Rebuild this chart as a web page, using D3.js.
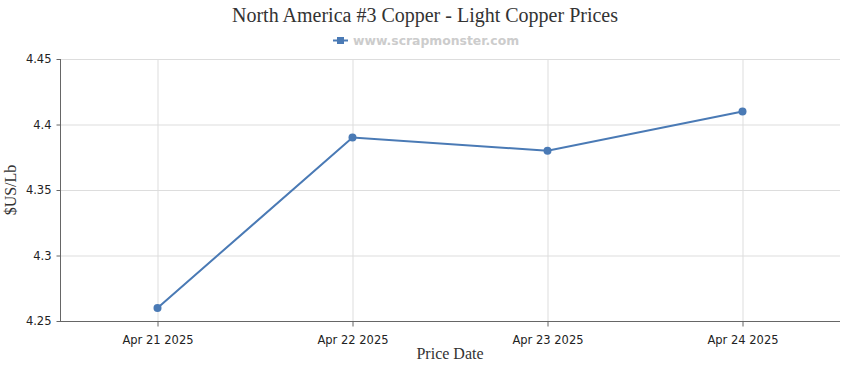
<!DOCTYPE html>
<html><head><meta charset="utf-8">
<script src="https://cdn.jsdelivr.net/npm/d3@7"></script>
<style>body{margin:0;background:#fff}</style>
</head><body>
<svg id="c" width="850" height="370"></svg>
<script>
const categories = ["Apr 21 2025","Apr 22 2025","Apr 23 2025","Apr 24 2025"];
const prices = [4.26, 4.39, 4.38, 4.41];
const yTicks = [4.25, 4.3, 4.35, 4.4, 4.45];
const yTickLabels = ["4.25","4.3","4.35","4.4","4.45"];

const svg = d3.select("#c");
const L=60,R=840,T=59,B=321;
const color="#4a7ab5";
const x=d3.scalePoint().domain(categories).range([L,R]).padding(0.5);
const y=d3.scaleLinear().domain([4.25,4.45]).range([B,T]);

// grid
svg.append("g").selectAll("line").data(yTicks).join("line")
 .attr("x1",L).attr("x2",R).attr("y1",d=>y(d)+0.5).attr("y2",d=>y(d)+0.5)
 .attr("stroke","#ddd");
svg.append("g").selectAll("line").data(categories).join("line")
 .attr("x1",d=>x(d)+0.5).attr("x2",d=>x(d)+0.5).attr("y1",T).attr("y2",B)
 .attr("stroke","#ddd");

// axes
const ya=svg.append("g").attr("transform",`translate(${L+0.5},0)`)
 .call(d3.axisLeft(y).tickValues(yTicks).tickFormat((d,i)=>yTickLabels[i]).tickSize(4).tickPadding(5));
const xa=svg.append("g").attr("transform",`translate(0,${B+0.5})`)
 .call(d3.axisBottom(x).tickSize(5).tickPadding(9));
[ya,xa].forEach(a=>{
 a.select(".domain").attr("stroke","#666");
 a.selectAll(".tick line").attr("stroke","#666");
 a.selectAll("text").attr("fill","#222").style("font-family","Tahoma, Verdana, 'DejaVu Sans', sans-serif").style("font-size","11.5px");
});
xa.select(".domain").attr("d",`M${L},0H${R}`);
ya.select(".domain").attr("d",`M0,${T}V${B}`);

// line
svg.append("path").datum(prices)
 .attr("d",d3.line().x((d,i)=>x(categories[i])).y(d=>y(d)))
 .attr("fill","none").attr("stroke",color).attr("stroke-width",2);
svg.append("g").selectAll("circle").data(prices).join("circle")
 .attr("cx",(d,i)=>x(categories[i])).attr("cy",d=>y(d)).attr("r",4).attr("fill",color);

// title
svg.append("text").attr("x",425).attr("y",22).attr("text-anchor","middle")
 .style("font-family","'Liberation Serif','Times New Roman',serif").style("font-size","20px").attr("fill","#333")
 .text("North America #3 Copper - Light Copper Prices");
// legend/subtitle
svg.append("line").attr("x1",333).attr("x2",348).attr("y1",40.5).attr("y2",40.5).attr("stroke",color).attr("stroke-width",2);
svg.append("rect").attr("x",337).attr("y",37).attr("width",7).attr("height",7).attr("fill",color);
svg.append("text").attr("x",353).attr("y",45)
 .style("font-family","'DejaVu Sans',Verdana,sans-serif").style("font-size","12.4px").style("font-weight","bold").attr("fill","#ccc")
 .text("www.scrapmonster.com");

// axis titles
svg.append("text").attr("transform",`translate(16,${(T+B)/2}) rotate(-90)`).attr("text-anchor","middle")
 .style("font-family","'Liberation Serif','Times New Roman',serif").style("font-size","16px").attr("fill","#333").text("$US/Lb");
svg.append("text").attr("x",450).attr("y",359).attr("text-anchor","middle")
 .style("font-family","'Liberation Serif','Times New Roman',serif").style("font-size","16px").attr("fill","#333").text("Price Date");
</script>
</body></html>
